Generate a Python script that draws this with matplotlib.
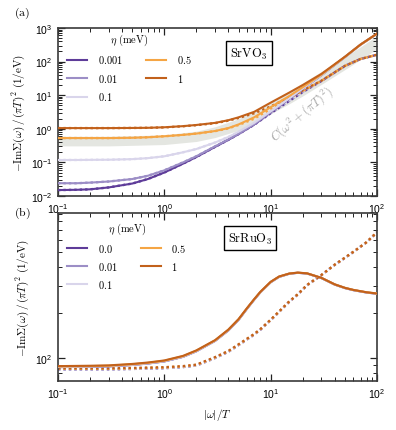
import matplotlib
matplotlib.use("Agg")
import matplotlib.pyplot as plt
from matplotlib.ticker import LogLocator, NullFormatter

plt.rcParams['mathtext.fontset'] = 'custom'
plt.rcParams['mathtext.rm'] = 'Liberation Sans'
plt.rcParams['mathtext.it'] = 'Liberation Sans:italic'
plt.rcParams['mathtext.bf'] = 'Liberation Sans:bold'
plt.rcParams['font.family'] = 'Liberation Sans'

# ---------------- data: panel (a) SrVO3 ----------------
eta_a = ['0.001', '0.01', '0.1', '0.5', '1']
x_a = [0.1, 0.15, 0.2, 0.3, 0.5, 0.7, 1, 1.5, 2, 3, 4, 5, 7, 10, 15, 20, 30, 50, 70, 100]

solid_a_0001 = [0.015, 0.0153, 0.0158, 0.018, 0.0235, 0.032, 0.05, 0.092, 0.145, 0.29, 0.47, 0.7, 1.35, 3.1, 7.9, 15.5, 39.5, 137, 318, 672]
solid_a_001 = [0.024, 0.024, 0.025, 0.027, 0.032, 0.04, 0.058, 0.1, 0.152, 0.3, 0.48, 0.71, 1.37, 3.15, 7.95, 15.6, 39.6, 137, 318, 672]
solid_a_01 = [0.118, 0.118, 0.119, 0.12, 0.125, 0.134, 0.152, 0.2, 0.25, 0.39, 0.57, 0.82, 1.5, 3.3, 8.1, 15.8, 39.8, 137, 318, 673]
solid_a_05 = [0.53, 0.53, 0.53, 0.53, 0.54, 0.56, 0.6, 0.66, 0.72, 0.86, 1.05, 1.35, 2.2, 4.4, 9.5, 17.2, 41, 138, 320, 676]
solid_a_1 = [1.05, 1.05, 1.05, 1.05, 1.06, 1.07, 1.11, 1.2, 1.3, 1.5, 1.8, 2.2, 3.2, 6.0, 12, 20, 43, 140, 322, 680]

dot_a_0001 = [0.015, 0.0153, 0.0158, 0.018, 0.0235, 0.032, 0.05, 0.092, 0.145, 0.29, 0.47, 0.7, 1.32, 2.9, 6.8, 12.4, 26.5, 74.5, 119.5, 159.5]
dot_a_001 = [0.024, 0.024, 0.025, 0.027, 0.032, 0.04, 0.058, 0.1, 0.152, 0.3, 0.48, 0.71, 1.34, 2.95, 6.9, 12.5, 26.5, 74.5, 119.5, 159.5]
dot_a_01 = [0.118, 0.118, 0.119, 0.12, 0.125, 0.134, 0.152, 0.2, 0.25, 0.39, 0.57, 0.8, 1.45, 3.1, 7.2, 12.8, 26.6, 74.6, 119.6, 159.6]
dot_a_05 = [0.53, 0.53, 0.53, 0.53, 0.54, 0.56, 0.6, 0.66, 0.72, 0.85, 1.03, 1.3, 2.0, 3.9, 8.2, 13.3, 26.8, 74.8, 119.8, 159.8]
dot_a_1 = [1.05, 1.05, 1.05, 1.05, 1.06, 1.07, 1.1, 1.19, 1.28, 1.47, 1.75, 2.1, 2.9, 4.6, 8.8, 13.8, 27, 75, 120, 160]

band_x = [0.1, 0.3, 1, 2, 3, 5, 7, 10, 15, 20, 30, 50, 70, 100]
band_lo = [0.31, 0.31, 0.34, 0.42, 0.55, 0.9, 1.5, 2.8, 5.6, 9.5, 21, 58, 115, 237]
band_hi = [0.60, 0.60, 0.66, 0.85, 1.15, 2.0, 3.4, 6.4, 13.5, 23, 51, 140, 275, 590]

# ---------------- data: panel (b) SrRuO3 ----------------
eta_b = ['0.0', '0.01', '0.1', '0.5', '1']
x_b = [0.1, 0.2, 0.3, 0.5, 0.7, 1, 1.5, 2, 3, 4, 5, 6, 7, 8, 10, 12, 15, 18, 22, 30, 40, 50, 60, 80, 100]

solid_b_00 = [87.7, 88.2, 88.7, 90.6, 92.6, 95.6, 102.5, 111.5, 130.5, 153, 180, 213, 244, 273, 318, 345, 362, 367, 363, 339, 307, 291, 282, 272, 267]
solid_b_001 = [87.7, 88.2, 88.7, 90.6, 92.6, 95.6, 102.5, 111.5, 130.5, 153, 180, 213, 244, 273, 318, 345, 362, 367, 363, 339, 307, 291, 282, 272, 267]
solid_b_01 = [88.0, 88.5, 89.0, 90.9, 92.9, 95.9, 102.8, 111.8, 130.8, 153.5, 180.5, 213.5, 244.5, 273.5, 318.5, 345.5, 362.5, 367.5, 363.5, 339.5, 307.5, 291.5, 282.5, 272.5, 267.5]
solid_b_05 = [88.5, 89.0, 89.5, 91.5, 93.5, 96.5, 103.5, 112.5, 131.5, 154.5, 181.5, 214.5, 245.5, 274.5, 319.5, 346.5, 363, 368, 364, 340, 308, 292, 283, 273, 268]
solid_b_1 = [89, 89.5, 90, 92, 94, 97, 104, 113, 132, 155, 182, 215, 246, 275, 320, 347, 363, 368, 364, 340, 308, 292, 283, 273, 268]

dot_b_00 = [84.8, 84.8, 84.8, 85.3, 85.8, 86.3, 87.8, 89.8, 100.7, 110.7, 122.7, 133.7, 143.7, 154.7, 179, 203, 237, 264, 304, 354, 414, 461, 504, 584, 679]
dot_b_001 = [84.8, 84.8, 84.8, 85.3, 85.8, 86.3, 87.8, 89.8, 100.7, 110.7, 122.7, 133.7, 143.7, 154.7, 179, 203, 237, 264, 304, 354, 414, 461, 504, 584, 679]
dot_b_01 = [85.1, 85.1, 85.1, 85.6, 86.1, 86.6, 88.1, 90.1, 101, 111, 123, 134, 144, 155, 179.3, 203.3, 237.3, 264.3, 304.3, 354.3, 414.3, 461.3, 504.3, 584.3, 679.3]
dot_b_05 = [85.6, 85.6, 85.6, 86.1, 86.6, 87.1, 88.6, 90.6, 101.6, 111.6, 123.6, 134.6, 144.6, 155.6, 179.7, 203.7, 237.7, 264.7, 304.7, 354.7, 414.7, 461.7, 504.7, 584.7, 679.7]
dot_b_1 = [86, 86, 86, 86.5, 87, 87.5, 89, 91, 102, 112, 124, 135, 145, 156, 180, 204, 238, 265, 305, 355, 415, 462, 505, 585, 680]

colors = ['#5e3c99', '#9c8ec6', '#d9d5eb', '#f5a544', '#c2611b']
band_color = '#e4e6e1'

solid_a = [solid_a_0001, solid_a_001, solid_a_01, solid_a_05, solid_a_1]
dot_a = [dot_a_0001, dot_a_001, dot_a_01, dot_a_05, dot_a_1]
solid_b = [solid_b_00, solid_b_001, solid_b_01, solid_b_05, solid_b_1]
dot_b = [dot_b_00, dot_b_001, dot_b_01, dot_b_05, dot_b_1]

fig = plt.figure(figsize=(3.96, 4.31), dpi=100)
W, H = 396, 431
ax_a = fig.add_axes([58 / W, 1 - 197 / H, 319 / W, 168 / H])
ax_b = fig.add_axes([58 / W, 1 - 382 / H, 319 / W, 168 / H])

LW = 1.5
DOT = (0, (1, 1.3))
ylabel = r'$-\mathrm{Im}\Sigma(\omega)\,/\,(\pi T)^2\ (1/\mathrm{eV})$'


def style(ax):
    ax.set_xscale('log')
    ax.set_yscale('log')
    ax.set_xlim(0.1, 100)
    for s in ax.spines.values():
        s.set_linewidth(1.2)
        s.set_color('#3a3a3a')
    ax.tick_params(which='both', direction='in', top=True, right=True,
                   color='#222222', labelsize=7.5, pad=4)
    ax.tick_params(which='major', length=5, width=0.9)
    ax.tick_params(which='minor', length=3, width=0.7)
    ax.xaxis.set_minor_locator(LogLocator(base=10, subs=range(2, 10), numticks=20))
    ax.yaxis.set_minor_locator(LogLocator(base=10, subs=range(2, 10), numticks=20))
    ax.yaxis.set_minor_formatter(NullFormatter())
    ax.xaxis.set_minor_formatter(NullFormatter())


def legend(ax, labels, y0, spacing):
    leg = ax.legend(handles, labels, ncol=2, loc='upper left', bbox_to_anchor=(0.0, y0),
                    frameon=False, fontsize=7.5, title=r'$\eta\ \mathrm{(meV)}$',
                    title_fontsize=7.5, handlelength=1.9, columnspacing=2.3,
                    labelspacing=spacing, handletextpad=1.0)
    for t in leg.get_texts():
        t.set_math_fontfamily('cm')
    leg.get_title().set_math_fontfamily('cm')
    return leg


def box(x, y, s):
    fig.text(x / W, 1 - y / H, s, ha='center', va='center', fontsize=9,
             math_fontfamily='cm',
             bbox=dict(boxstyle='square,pad=0.35', fc='white', ec='black', lw=1.0))


# ---- panel (a)
style(ax_a)
ax_a.set_ylim(1e-2, 1e3)
ax_a.fill_between(band_x, band_lo, band_hi, color=band_color, lw=0, zorder=1)
handles = []
for i in range(5):
    ax_a.plot(x_a, dot_a[i], color=colors[i], lw=1.7, ls=DOT, zorder=2)
for i in range(5):
    h, = ax_a.plot(x_a, solid_a[i], color=colors[i], lw=LW, zorder=3)
    handles.append(h)
legend(ax_a, ['$' + e + '$' for e in eta_a], 1.035, 0.62)
box(249, 54, r'$\mathrm{SrVO_3}$')
ax_a.text(0.765, 0.49, r'$C(\omega^2+(\pi T)^2)$', transform=ax_a.transAxes,
          rotation=40, ha='center', va='center', fontsize=9, color='#a8a8a8',
          math_fontfamily='cm')
ax_a.set_ylabel(ylabel, fontsize=8, math_fontfamily='cm', labelpad=3)

# ---- panel (b)
style(ax_b)
ax_b.set_ylim(71, 910)
handles = []
for i in range(5):
    ax_b.plot(x_b, dot_b[i], color=colors[i], lw=1.7, ls=DOT, zorder=2)
for i in range(5):
    h, = ax_b.plot(x_b, solid_b[i], color=colors[i], lw=LW, zorder=3)
    handles.append(h)
legend(ax_b, ['$' + e + '$' for e in eta_b], 1.008, 0.56)
box(250, 239, r'$\mathrm{SrRuO_3}$')
ax_b.set_ylabel(ylabel, fontsize=8, math_fontfamily='cm', labelpad=3)
ax_b.set_xlabel(r'$|\omega|/T$', fontsize=8, math_fontfamily='cm', labelpad=4)

fig.text(14 / W, 1 - 13 / H, r'$\mathrm{(a)}$', fontsize=8.5, math_fontfamily='cm',
         ha='left', va='center')
fig.text(14 / W, 1 - 213 / H, r'$\mathrm{(b)}$', fontsize=8.5, math_fontfamily='cm',
         ha='left', va='center')

fig.savefig('out.png', dpi=100)
